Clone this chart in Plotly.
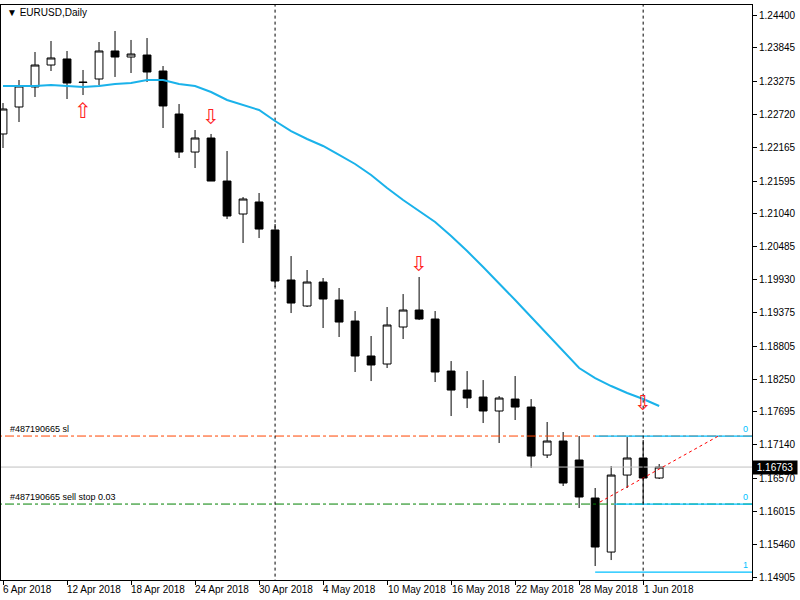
import plotly.graph_objects as go

# EURUSD daily bars, 6 Apr 2018 .. 4 Jun 2018 (trading-day index on x)
opens = [1.22390, 1.22846, 1.23184, 1.23555, 1.23657, 1.23268, 1.23319, 1.23792, 1.23690, 1.23724,
         1.23454, 1.22727, 1.22085, 1.22322, 1.21595, 1.21038, 1.21241, 1.20768, 1.19923, 1.19484,
         1.19889, 1.19585, 1.19230, 1.18639, 1.18504, 1.19129, 1.19416, 1.19264, 1.18385, 1.18064,
         1.17946, 1.17710, 1.17912, 1.17777, 1.16966, 1.17203, 1.16882, 1.16240, 1.15327, 1.16628,
         1.16916, 1.16578]
highs = [1.22913, 1.23302, 1.23775, 1.23961, 1.23792, 1.23471, 1.23944, 1.24130, 1.23978, 1.24011,
         1.23538, 1.22896, 1.22457, 1.22390, 1.22102, 1.21325, 1.21393, 1.20869, 1.20328, 1.20092,
         1.19957, 1.19788, 1.19399, 1.18977, 1.19467, 1.19686, 1.19974, 1.19399, 1.18554, 1.18385,
         1.18233, 1.17963, 1.18301, 1.17912, 1.17524, 1.17355, 1.17287, 1.16409, 1.16780, 1.17270,
         1.17220, 1.16814]
lows = [1.22153, 1.22592, 1.23015, 1.23454, 1.22981, 1.23048, 1.23217, 1.23353, 1.23420, 1.23268,
        1.22491, 1.21984, 1.21815, 1.21595, 1.20953, 1.20548, 1.20632, 1.19805, 1.19365, 1.19467,
        1.19112, 1.18960, 1.18369, 1.18216, 1.18436, 1.18926, 1.19247, 1.18200, 1.17625, 1.17760,
        1.17507, 1.17169, 1.17558, 1.16747, 1.16916, 1.16443, 1.16071, 1.15091, 1.15192, 1.16409,
        1.16155, 1.16561]
closes = [1.22812, 1.23200, 1.23555, 1.23674, 1.23251, 1.23260, 1.23792, 1.23690, 1.23741, 1.23437,
          1.22863, 1.22085, 1.22322, 1.21595, 1.21004, 1.21291, 1.20784, 1.19906, 1.19534, 1.19889,
          1.19602, 1.19213, 1.18639, 1.18487, 1.19163, 1.19416, 1.19264, 1.18369, 1.18064, 1.17929,
          1.17710, 1.17929, 1.17777, 1.16949, 1.17203, 1.16493, 1.16257, 1.15412, 1.16628, 1.16916,
          1.16578, 1.16763]
ma = [1.23200, 1.23200, 1.23200, 1.23217, 1.23200, 1.23184, 1.23200, 1.23234, 1.23251, 1.23302,
      1.23302, 1.23234, 1.23200, 1.23099, 1.22964, 1.22879, 1.22795, 1.22609, 1.22440, 1.22305,
      1.22187, 1.22035, 1.21883, 1.21697, 1.21477, 1.21274, 1.21089, 1.20903, 1.20666, 1.20413,
      1.20142, 1.19872, 1.19585, 1.19298, 1.19010, 1.18723, 1.18436, 1.18267, 1.18132, 1.18014,
      1.17912, 1.17794]

date_ticks = [0, 4, 8, 12, 16, 20, 24, 28, 32, 36, 40]
date_labels = ["6 Apr 2018", "12 Apr 2018", "18 Apr 2018", "24 Apr 2018", "30 Apr 2018", "4 May 2018",
               "10 May 2018", "16 May 2018", "22 May 2018", "28 May 2018", "1 Jun 2018"]
price_ticks = [1.24400, 1.23845, 1.23275, 1.22720, 1.22165, 1.21595, 1.21040, 1.20485, 1.19930,
               1.19375, 1.18805, 1.18250, 1.17695, 1.17140, 1.16570, 1.16015, 1.15460, 1.14905]

# signal arrows
up_idx, up_price = [5], [1.22750]
down_idx, down_price = [13, 26, 40], [1.22640, 1.20170, 1.17820]

sl_price = 1.17287
stop_price = 1.16138
fibo_one = 1.14989
last_price = closes[-1]
separators = [17, 40]
trend_x, trend_y = [37.3, 44.7], [1.16172, 1.17287]

idx = list(range(len(opens)))
XMAX = 46.8
font = dict(family="Liberation Sans", size=10, color="black")
small = dict(family="Liberation Sans", size=9, color="black")

fig = go.Figure()

for y, col in [(sl_price, "#ff4500"), (stop_price, "#008000")]:
    fig.add_trace(go.Scatter(x=[-1, XMAX], y=[y, y], mode="lines",
                             line=dict(color=col, width=1, dash="dashdot"), hoverinfo="skip"))

fig.add_trace(go.Scatter(x=[-1, XMAX], y=[last_price, last_price], mode="lines",
                         line=dict(color="#c0c0c0", width=1), hoverinfo="skip"))

# fibo levels
for y, x0 in [(sl_price, 37), (stop_price, 38.2), (fibo_one, 37)]:
    fig.add_trace(go.Scatter(x=[x0, XMAX], y=[y, y], mode="lines",
                             line=dict(color="#00bfff", width=1.3), hoverinfo="skip"))

fig.add_trace(go.Scatter(x=trend_x, y=trend_y, mode="lines",
                         line=dict(color="#ff0000", width=1, dash="dot"), hoverinfo="skip"))

for s in separators:
    fig.add_trace(go.Scatter(x=[s, s], y=[1.14, 1.25], mode="lines",
                             line=dict(color="black", width=1, dash="dot"), hoverinfo="skip"))

fig.add_trace(go.Candlestick(
    x=idx, open=opens, high=highs, low=lows, close=closes,
    increasing=dict(line=dict(color="black", width=1), fillcolor="white"),
    decreasing=dict(line=dict(color="black", width=1), fillcolor="black"),
    whiskerwidth=0))

fig.add_trace(go.Scatter(x=idx, y=ma, mode="lines", line=dict(color="#1ab2ea", width=2),
                         hoverinfo="skip"))

fig.add_trace(go.Scatter(x=up_idx, y=up_price, mode="text", text=["⇧"] * len(up_idx),
                         textfont=dict(family="DejaVu Sans", size=21, color="#ff2020")))
fig.add_trace(go.Scatter(x=down_idx, y=down_price, mode="text", text=["⇩"] * len(down_idx),
                         textfont=dict(family="DejaVu Sans", size=21, color="#ff2020")))

ann = [dict(x=0.005, y=1.0, xref="paper", yref="paper", xanchor="left", yanchor="top",
            text="▼ EURUSD,Daily", showarrow=False, font=font),
       dict(x=0.3, y=sl_price, xanchor="left", yanchor="bottom", text="#487190665 sl",
            showarrow=False, font=small),
       dict(x=0.3, y=stop_price, xanchor="left", yanchor="bottom", text="#487190665 sell stop 0.03",
            showarrow=False, font=small),
       dict(x=1.0, y=last_price, xref="paper", xanchor="left", text=" %.5f " % last_price,
            showarrow=False, bgcolor="black", borderpad=1,
            font=dict(family="Liberation Sans", size=10, color="white"))]
for y, t in [(sl_price, "0"), (stop_price, "0"), (fibo_one, "1")]:
    ann.append(dict(x=XMAX - 0.1, y=y, xanchor="right", yanchor="bottom", text=t, showarrow=False,
                    font=dict(family="Liberation Sans", size=9, color="#00bfff")))
for t, lab in zip(date_ticks, date_labels):
    ann.append(dict(x=t - 0.1, y=0, yref="paper", xanchor="left", yanchor="top", yshift=-2,
                    text=lab, showarrow=False, font=font))

fig.update_layout(
    width=800, height=600, showlegend=False,
    margin=dict(l=1, r=48, t=5, b=20),
    paper_bgcolor="white", plot_bgcolor="white",
    annotations=ann,
    xaxis=dict(range=[-0.125, XMAX], tickvals=date_ticks, showticklabels=False, ticks="outside",
               ticklen=4, tickcolor="black", showgrid=False, zeroline=False, showline=True,
               linecolor="black", mirror=True, rangeslider=dict(visible=False)),
    yaxis=dict(range=[1.14855, 1.24569], side="right", tickvals=price_ticks,
               ticktext=["%.5f" % p for p in price_ticks], ticks="outside", ticklen=4,
               tickcolor="black", tickfont=font, showgrid=False, zeroline=False,
               showline=True, linecolor="black", mirror=True),
)

fig.write_html("out.html", config={"displayModeBar": False},
               post_script="document.body.style.margin='0';")
